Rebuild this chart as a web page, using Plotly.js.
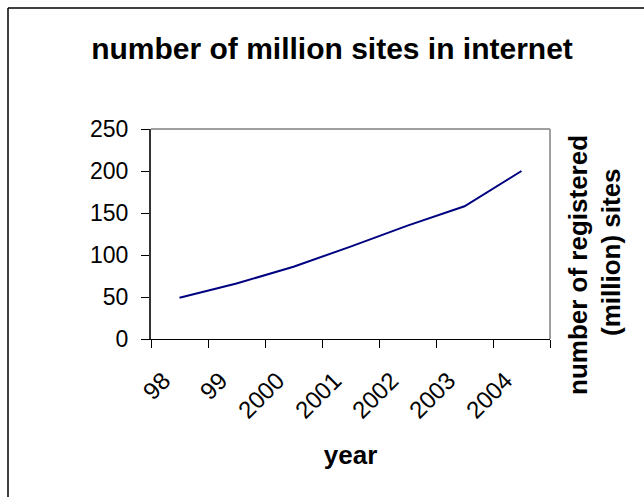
<!DOCTYPE html>
<html>
<head>
<meta charset="utf-8">
<script src="https://cdn.plot.ly/plotly-3.0.1.min.js"></script>
<style>
  html, body { margin: 0; padding: 0; background: #fff; }
  #chart { width: 644px; height: 497px; }
</style>
</head>
<body>
<div id="chart"></div>
<script>
const years = ["98", "99", "2000", "2001", "2002", "2003", "2004"];
const sites = [49, 66, 86, 110, 135, 158, 200];
const yTicks = [0, 50, 100, 150, 200, 250];

const chartTitle = "number of million sites in internet";
const xTitle = "year";
const yTitleLine1 = "number of registered";
const yTitleLine2 = "(million) sites";

const W = 644, H = 497;
const M = { l: 151, r: 94, t: 129, b: 158 };
const pw = W - M.l - M.r, ph = H - M.t - M.b;
const px = v => (v - M.l) / pw;        // pixel x -> paper x
const py = v => (H - M.b - v) / ph;    // pixel y -> paper y

const FONT = "Liberation Sans, Arial, sans-serif";

const trace = {
  type: "scatter",
  mode: "lines",
  x: years,
  y: sites,
  line: { color: "#000080", width: 2 },
  hoverinfo: "x+y"
};

const layout = {
  width: W,
  height: H,
  margin: M,
  paper_bgcolor: "#ffffff",
  plot_bgcolor: "#ffffff",
  showlegend: false,
  font: { family: FONT, color: "#000000", size: 22 },
  title: {
    text: "<b>" + chartTitle + "</b>",
    font: { family: FONT, size: 30, color: "#000000" },
    x: 332 / W,
    xanchor: "center",
    xref: "container",
    y: 1 - 48 / H,
    yref: "container",
    yanchor: "middle"
  },
  xaxis: {
    type: "category",
    range: [-0.5, years.length - 0.5],
    tickson: "boundaries",
    ticks: "outside",
    ticklen: 8,
    tickwidth: 1,
    tickcolor: "#000000",
    tickangle: -45,
    ticklabelstandoff: 17,
    ticklabelshift: -16,
    tickfont: { family: FONT, size: 24, color: "#000000" },
    showline: true,
    linecolor: "#000000",
    linewidth: 1,
    showgrid: false,
    zeroline: false,
    title: {
      text: "<b>" + xTitle + "</b>",
      font: { family: FONT, size: 26, color: "#000000" },
      standoff: 23
    }
  },
  yaxis: {
    range: [0, 250],
    tickvals: yTicks,
    ticktext: yTicks.map(String),
    ticks: "outside",
    ticklen: 8,
    tickwidth: 1,
    tickcolor: "#000000",
    ticklabelstandoff: 8,
    tickfont: { family: FONT, size: 23, color: "#000000" },
    showline: true,
    linecolor: "#333333",
    linewidth: 2,
    showgrid: false,
    zeroline: false
  },
  shapes: [
    { type: "line", xref: "paper", yref: "paper", x0: 0, x1: 1, y0: 1, y1: 1,
      line: { color: "#808080", width: 1.5 } },
    { type: "line", xref: "paper", yref: "paper", x0: 1, x1: 1, y0: 0, y1: 1,
      line: { color: "#808080", width: 1.5 } },
    { type: "line", xref: "paper", yref: "paper", x0: px(8), x1: px(W + 5), y0: py(8), y1: py(8),
      line: { color: "#000000", width: 1.5 } },
    { type: "line", xref: "paper", yref: "paper", x0: px(8), x1: px(8), y0: py(8), y1: py(H + 5),
      line: { color: "#000000", width: 1.5 } }
  ],
  annotations: [
    { text: "<b>" + yTitleLine1 + "</b>", xref: "paper", yref: "paper",
      x: px(578), y: py(265), xanchor: "center", yanchor: "middle",
      textangle: -90, showarrow: false,
      font: { family: FONT, size: 26, color: "#000000" } },
    { text: "<b>" + yTitleLine2 + "</b>", xref: "paper", yref: "paper",
      x: px(611), y: py(252), xanchor: "center", yanchor: "middle",
      textangle: -90, showarrow: false,
      font: { family: FONT, size: 26, color: "#000000" } }
  ]
};

Plotly.newPlot("chart", [trace], layout, { displayModeBar: false, staticPlot: true });
</script>
</body>
</html>
